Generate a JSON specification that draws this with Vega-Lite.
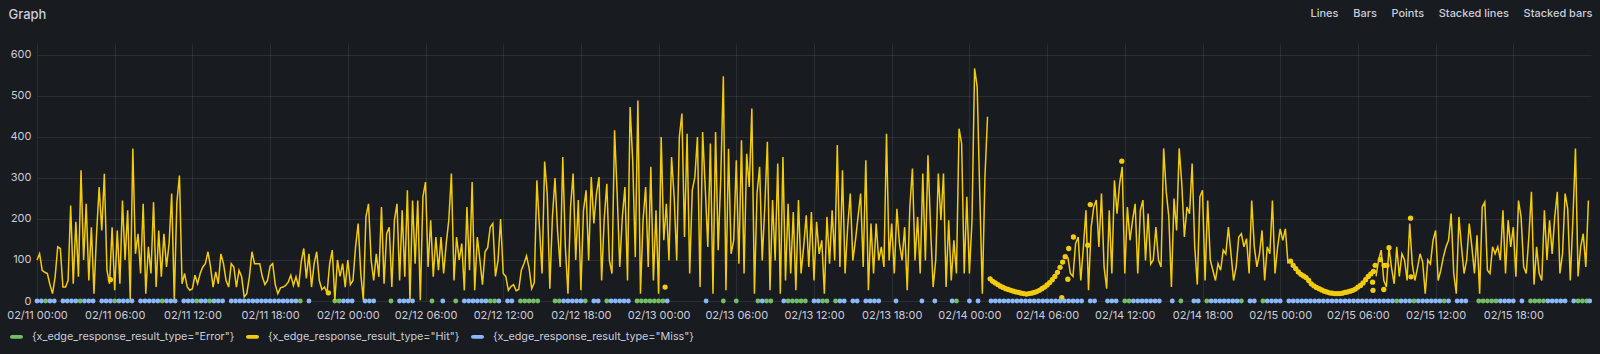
{
"$schema":"https://vega.github.io/schema/vega-lite/v6.json",
"width":1554,"height":258,
"autosize":{"type":"none"},
"padding":{"left":37,"top":43,"right":9,"bottom":53},
"background":"#181b1f",
"config":{"view":{"stroke":null},"font":"Inter",
"axis":{"domain":false,"ticks":false,"gridColor":"#ccccdc","gridOpacity":0.1,"labelColor":"#ccccdc","labelFont":"Inter","labelFontSize":11,"titleColor":"#ccccdc","titleFont":"Inter"}},
"encoding":{
"x":{"field":"t","type":"temporal","scale":{"type":"utc","domain":[{"year":1900,"month":2,"date":11,"utc":true},{"year":1900,"month":2,"date":16,"utc":true}]},
"axis":{"values":[{"year":1900,"month":2,"date":11,"hours":0,"utc":true},{"year":1900,"month":2,"date":11,"hours":6,"utc":true},{"year":1900,"month":2,"date":11,"hours":12,"utc":true},{"year":1900,"month":2,"date":11,"hours":18,"utc":true},{"year":1900,"month":2,"date":12,"hours":0,"utc":true},{"year":1900,"month":2,"date":12,"hours":6,"utc":true},{"year":1900,"month":2,"date":12,"hours":12,"utc":true},{"year":1900,"month":2,"date":12,"hours":18,"utc":true},{"year":1900,"month":2,"date":13,"hours":0,"utc":true},{"year":1900,"month":2,"date":13,"hours":6,"utc":true},{"year":1900,"month":2,"date":13,"hours":12,"utc":true},{"year":1900,"month":2,"date":13,"hours":18,"utc":true},{"year":1900,"month":2,"date":14,"hours":0,"utc":true},{"year":1900,"month":2,"date":14,"hours":6,"utc":true},{"year":1900,"month":2,"date":14,"hours":12,"utc":true},{"year":1900,"month":2,"date":14,"hours":18,"utc":true},{"year":1900,"month":2,"date":15,"hours":0,"utc":true},{"year":1900,"month":2,"date":15,"hours":6,"utc":true},{"year":1900,"month":2,"date":15,"hours":12,"utc":true},{"year":1900,"month":2,"date":15,"hours":18,"utc":true}],
"labelExpr":"utcFormat(datum.value, '%m/%d %H:%M')","labelFlush":false,"labelOverlap":false,"labelPadding":8,"grid":true,
"title":"Lines\u00a0\u00a0\u00a0\u00a0\u00a0Bars\u00a0\u00a0\u00a0\u00a0\u00a0Points\u00a0\u00a0\u00a0\u00a0\u00a0Stacked lines\u00a0\u00a0\u00a0\u00a0\u00a0Stacked bars","titleAlign":"left","titleBaseline":"middle","titleX":1273,"titleY":-288,"titleFontSize":11,"titleFontWeight":500}},
"y":{"field":"v","type":"quantitative","scale":{"domain":[0,629],"nice":false},
"axis":{"values":[0,100,200,300,400,500,600],"labelPadding":6,"grid":true,"title":"Graph","titleAngle":0,"titleAlign":"left","titleBaseline":"middle","titleX":-29,"titleY":-29,"titleFontSize":13,"titleFontWeight":500}}
},
"layer":[
{"data":{"values":[
{"t":"02/11 00:40","v":0},{"t":"02/11 03:20","v":0},{"t":"02/11 06:00","v":0},{"t":"02/11 09:40","v":0},{"t":"02/11 12:20","v":0},{"t":"02/11 13:20","v":0},{"t":"02/11 20:20","v":0},{"t":"02/11 23:00","v":0},{"t":"02/11 23:20","v":0},
{"t":"02/12 03:20","v":0},{"t":"02/12 06:30","v":0},{"t":"02/12 08:20","v":0},{"t":"02/12 11:00","v":0},{"t":"02/12 11:20","v":0},{"t":"02/12 13:20","v":0},{"t":"02/12 13:40","v":0},{"t":"02/12 14:00","v":0},{"t":"02/12 14:20","v":0},{"t":"02/12 14:40","v":0},{"t":"02/12 16:00","v":0},{"t":"02/12 16:20","v":0},{"t":"02/12 18:20","v":0},{"t":"02/12 20:00","v":0},{"t":"02/12 22:20","v":0},{"t":"02/12 22:40","v":0},{"t":"02/12 23:00","v":0},{"t":"02/12 23:20","v":0},{"t":"02/12 23:40","v":0},
{"t":"02/13 00:00","v":0},{"t":"02/13 00:20","v":0},{"t":"02/13 05:00","v":0},{"t":"02/13 06:00","v":0},{"t":"02/13 07:40","v":0},{"t":"02/13 08:20","v":0},{"t":"02/13 08:40","v":0},{"t":"02/13 10:00","v":0},{"t":"02/13 10:20","v":0},{"t":"02/13 10:40","v":0},{"t":"02/13 11:00","v":0},{"t":"02/13 11:20","v":0},{"t":"02/13 12:40","v":0},{"t":"02/13 13:00","v":0},{"t":"02/13 13:40","v":0},{"t":"02/13 23:00","v":0},
{"t":"02/14 12:00","v":0},{"t":"02/14 12:20","v":0},{"t":"02/14 16:20","v":0},{"t":"02/14 18:20","v":0},{"t":"02/14 21:00","v":0},{"t":"02/14 22:40","v":0},
{"t":"02/15 09:00","v":0},{"t":"02/15 10:20","v":0},{"t":"02/15 12:40","v":0},{"t":"02/15 15:20","v":0},{"t":"02/15 15:40","v":0},{"t":"02/15 16:00","v":0},{"t":"02/15 16:20","v":0},{"t":"02/15 16:40","v":0},{"t":"02/15 19:20","v":0},{"t":"02/15 19:40","v":0},{"t":"02/15 20:00","v":0},{"t":"02/15 20:20","v":0},{"t":"02/15 23:00","v":0},{"t":"02/15 23:20","v":0},{"t":"02/15 23:40","v":0}
],"format":{"parse":{"t":"utc:'%m/%d %H:%M'"}}},
"mark":{"type":"point","filled":true,"size":24,"opacity":1},
"encoding":{"color":{"datum":"{x_edge_response_result_type=\"Error\"}","scale":{"domain":["{x_edge_response_result_type=\"Error\"}","{x_edge_response_result_type=\"Hit\"}","{x_edge_response_result_type=\"Miss\"}"],"range":["#73BF69","#F2CC0C","#8AB8FF"]},
"legend":{"orient":"none","legendX":-27,"legendY":287,"direction":"horizontal","title":null,"symbolType":"M-0.7,-0.3L0.7,-0.3A0.3,0.3,0,0,1,0.7,0.3L-0.7,0.3A0.3,0.3,0,0,1,-0.7,-0.3Z","symbolSize":169,"symbolOpacity":1,"symbolStrokeWidth":0,"labelFont":"Inter","labelFontSize":10.8,"labelColor":"#ccccdc","labelOffset":9,"columnPadding":11,"labelLimit":400,"padding":0}}}},
{"data":{"values":[
{"t":"02/11 00:00","v":100},{"t":"02/11 00:12","v":115},{"t":"02/11 00:24","v":75},{"t":"02/11 00:36","v":70},{"t":"02/11 00:48","v":67},
{"t":"02/11 01:00","v":40},{"t":"02/11 01:12","v":18},{"t":"02/11 01:24","v":59},{"t":"02/11 01:36","v":132},{"t":"02/11 01:48","v":128},
{"t":"02/11 02:00","v":34},{"t":"02/11 02:12","v":34},{"t":"02/11 02:24","v":50},{"t":"02/11 02:36","v":233},{"t":"02/11 02:48","v":42},
{"t":"02/11 03:00","v":193},{"t":"02/11 03:12","v":59},{"t":"02/11 03:24","v":319},{"t":"02/11 03:36","v":100},{"t":"02/11 03:48","v":237},
{"t":"02/11 04:00","v":50},{"t":"02/11 04:12","v":180},{"t":"02/11 04:24","v":18},{"t":"02/11 04:36","v":164},{"t":"02/11 04:48","v":278},
{"t":"02/11 05:00","v":172},{"t":"02/11 05:12","v":310},{"t":"02/11 05:24","v":75},{"t":"02/11 05:36","v":42},{"t":"02/11 05:48","v":180},
{"t":"02/11 06:00","v":26},{"t":"02/11 06:12","v":172},{"t":"02/11 06:24","v":42},{"t":"02/11 06:36","v":245},{"t":"02/11 06:48","v":100},
{"t":"02/11 07:00","v":221},{"t":"02/11 07:12","v":5},{"t":"02/11 07:24","v":372},{"t":"02/11 07:36","v":115},{"t":"02/11 07:48","v":164},
{"t":"02/11 08:00","v":67},{"t":"02/11 08:12","v":237},{"t":"02/11 08:24","v":18},{"t":"02/11 08:36","v":132},{"t":"02/11 08:48","v":67},
{"t":"02/11 09:00","v":241},{"t":"02/11 09:12","v":34},{"t":"02/11 09:24","v":172},{"t":"02/11 09:36","v":59},{"t":"02/11 09:48","v":164},
{"t":"02/11 10:00","v":83},{"t":"02/11 10:12","v":140},{"t":"02/11 10:24","v":262},{"t":"02/11 10:36","v":2},{"t":"02/11 10:48","v":241},
{"t":"02/11 11:00","v":306},{"t":"02/11 11:12","v":42},{"t":"02/11 11:24","v":67},{"t":"02/11 11:36","v":34},{"t":"02/11 11:48","v":26},
{"t":"02/11 12:00","v":30},{"t":"02/11 12:12","v":63},{"t":"02/11 12:24","v":42},{"t":"02/11 12:36","v":67},{"t":"02/11 12:48","v":83},
{"t":"02/11 13:00","v":91},{"t":"02/11 13:12","v":120},{"t":"02/11 13:24","v":83},{"t":"02/11 13:36","v":34},{"t":"02/11 13:48","v":71},
{"t":"02/11 14:00","v":42},{"t":"02/11 14:12","v":115},{"t":"02/11 14:24","v":91},{"t":"02/11 14:36","v":50},{"t":"02/11 14:48","v":34},
{"t":"02/11 15:00","v":91},{"t":"02/11 15:12","v":83},{"t":"02/11 15:24","v":34},{"t":"02/11 15:36","v":75},{"t":"02/11 15:48","v":59},
{"t":"02/11 16:00","v":10},{"t":"02/11 16:12","v":18},{"t":"02/11 16:24","v":59},{"t":"02/11 16:36","v":120},{"t":"02/11 16:48","v":91},
{"t":"02/11 17:00","v":91},{"t":"02/11 17:12","v":91},{"t":"02/11 17:24","v":59},{"t":"02/11 17:36","v":40},{"t":"02/11 17:48","v":50},
{"t":"02/11 18:00","v":85},{"t":"02/11 18:12","v":91},{"t":"02/11 18:24","v":40},{"t":"02/11 18:36","v":18},{"t":"02/11 18:48","v":32},
{"t":"02/11 19:00","v":34},{"t":"02/11 19:12","v":38},{"t":"02/11 19:24","v":46},{"t":"02/11 19:36","v":63},{"t":"02/11 19:48","v":38},
{"t":"02/11 20:00","v":59},{"t":"02/11 20:12","v":34},{"t":"02/11 20:24","v":95},{"t":"02/11 20:36","v":128},{"t":"02/11 20:48","v":55},
{"t":"02/11 21:00","v":115},{"t":"02/11 21:12","v":34},{"t":"02/11 21:24","v":91},{"t":"02/11 21:36","v":120},{"t":"02/11 21:48","v":50},
{"t":"02/11 22:00","v":28},{"t":"02/11 22:12","v":34},{"t":"02/11 22:24","v":20},{"t":"02/11 22:36","v":91},{"t":"02/11 22:48","v":124},
{"t":"02/11 23:00","v":2},{"t":"02/11 23:12","v":100},{"t":"02/11 23:24","v":60},{"t":"02/11 23:36","v":91},{"t":"02/11 23:48","v":34},
{"t":"02/12 00:00","v":100},{"t":"02/12 00:12","v":40},{"t":"02/12 00:24","v":50},{"t":"02/12 00:36","v":132},{"t":"02/12 00:48","v":189},
{"t":"02/12 01:00","v":67},{"t":"02/12 01:12","v":2},{"t":"02/12 01:24","v":205},{"t":"02/12 01:36","v":237},{"t":"02/12 01:48","v":100},
{"t":"02/12 02:00","v":50},{"t":"02/12 02:12","v":115},{"t":"02/12 02:24","v":59},{"t":"02/12 02:36","v":229},{"t":"02/12 02:48","v":42},
{"t":"02/12 03:00","v":164},{"t":"02/12 03:12","v":180},{"t":"02/12 03:24","v":34},{"t":"02/12 03:36","v":197},{"t":"02/12 03:48","v":237},
{"t":"02/12 04:00","v":50},{"t":"02/12 04:12","v":221},{"t":"02/12 04:24","v":59},{"t":"02/12 04:36","v":270},{"t":"02/12 04:48","v":2},
{"t":"02/12 05:00","v":245},{"t":"02/12 05:12","v":91},{"t":"02/12 05:24","v":245},{"t":"02/12 05:36","v":2},{"t":"02/12 05:48","v":254},
{"t":"02/12 06:00","v":290},{"t":"02/12 06:12","v":83},{"t":"02/12 06:24","v":197},{"t":"02/12 06:36","v":59},{"t":"02/12 06:48","v":156},
{"t":"02/12 07:00","v":75},{"t":"02/12 07:12","v":156},{"t":"02/12 07:24","v":67},{"t":"02/12 07:36","v":140},{"t":"02/12 07:48","v":197},
{"t":"02/12 08:00","v":311},{"t":"02/12 08:12","v":50},{"t":"02/12 08:24","v":156},{"t":"02/12 08:36","v":100},{"t":"02/12 08:48","v":140},
{"t":"02/12 09:00","v":26},{"t":"02/12 09:12","v":229},{"t":"02/12 09:24","v":75},{"t":"02/12 09:36","v":290},{"t":"02/12 09:48","v":26},
{"t":"02/12 10:00","v":156},{"t":"02/12 10:12","v":100},{"t":"02/12 10:24","v":40},{"t":"02/12 10:36","v":120},{"t":"02/12 10:48","v":130},
{"t":"02/12 11:00","v":180},{"t":"02/12 11:12","v":189},{"t":"02/12 11:24","v":60},{"t":"02/12 11:36","v":99},{"t":"02/12 11:48","v":200},
{"t":"02/12 12:00","v":67},{"t":"02/12 12:12","v":60},{"t":"02/12 12:24","v":26},{"t":"02/12 12:36","v":35},{"t":"02/12 12:48","v":40},
{"t":"02/12 13:00","v":25},{"t":"02/12 13:12","v":28},{"t":"02/12 13:24","v":75},{"t":"02/12 13:36","v":91},{"t":"02/12 13:48","v":110},
{"t":"02/12 14:00","v":80},{"t":"02/12 14:12","v":30},{"t":"02/12 14:24","v":45},{"t":"02/12 14:36","v":294},{"t":"02/12 14:48","v":180},
{"t":"02/12 15:00","v":67},{"t":"02/12 15:12","v":340},{"t":"02/12 15:24","v":262},{"t":"02/12 15:36","v":30},{"t":"02/12 15:48","v":205},
{"t":"02/12 16:00","v":300},{"t":"02/12 16:12","v":170},{"t":"02/12 16:24","v":83},{"t":"02/12 16:36","v":351},{"t":"02/12 16:48","v":132},
{"t":"02/12 17:00","v":18},{"t":"02/12 17:12","v":229},{"t":"02/12 17:24","v":311},{"t":"02/12 17:36","v":100},{"t":"02/12 17:48","v":246},
{"t":"02/12 18:00","v":26},{"t":"02/12 18:12","v":221},{"t":"02/12 18:24","v":270},{"t":"02/12 18:36","v":99},{"t":"02/12 18:48","v":302},
{"t":"02/12 19:00","v":189},{"t":"02/12 19:12","v":262},{"t":"02/12 19:24","v":302},{"t":"02/12 19:36","v":50},{"t":"02/12 19:48","v":200},
{"t":"02/12 20:00","v":286},{"t":"02/12 20:12","v":99},{"t":"02/12 20:24","v":67},{"t":"02/12 20:36","v":416},{"t":"02/12 20:48","v":262},
{"t":"02/12 21:00","v":83},{"t":"02/12 21:12","v":205},{"t":"02/12 21:24","v":278},{"t":"02/12 21:36","v":50},{"t":"02/12 21:48","v":473},
{"t":"02/12 22:00","v":343},{"t":"02/12 22:12","v":107},{"t":"02/12 22:24","v":489},{"t":"02/12 22:36","v":18},{"t":"02/12 22:48","v":197},
{"t":"02/12 23:00","v":278},{"t":"02/12 23:12","v":83},{"t":"02/12 23:24","v":327},{"t":"02/12 23:36","v":50},{"t":"02/12 23:48","v":221},
{"t":"02/13 00:00","v":18},{"t":"02/13 00:12","v":400},{"t":"02/13 00:24","v":148},{"t":"02/13 00:36","v":237},{"t":"02/13 00:48","v":99},
{"t":"02/13 01:00","v":351},{"t":"02/13 01:12","v":254},{"t":"02/13 01:24","v":99},{"t":"02/13 01:36","v":400},{"t":"02/13 01:48","v":457},
{"t":"02/13 02:00","v":156},{"t":"02/13 02:12","v":408},{"t":"02/13 02:24","v":67},{"t":"02/13 02:36","v":270},{"t":"02/13 02:48","v":302},
{"t":"02/13 03:00","v":400},{"t":"02/13 03:12","v":34},{"t":"02/13 03:24","v":412},{"t":"02/13 03:36","v":278},{"t":"02/13 03:48","v":132},
{"t":"02/13 04:00","v":384},{"t":"02/13 04:12","v":18},{"t":"02/13 04:24","v":412},{"t":"02/13 04:36","v":124},{"t":"02/13 04:48","v":300},
{"t":"02/13 05:00","v":548},{"t":"02/13 05:12","v":26},{"t":"02/13 05:24","v":371},{"t":"02/13 05:36","v":115},{"t":"02/13 05:48","v":148},
{"t":"02/13 06:00","v":343},{"t":"02/13 06:12","v":91},{"t":"02/13 06:24","v":392},{"t":"02/13 06:36","v":67},{"t":"02/13 06:48","v":359},
{"t":"02/13 07:00","v":278},{"t":"02/13 07:12","v":469},{"t":"02/13 07:24","v":18},{"t":"02/13 07:36","v":262},{"t":"02/13 07:48","v":327},
{"t":"02/13 08:00","v":99},{"t":"02/13 08:12","v":229},{"t":"02/13 08:24","v":388},{"t":"02/13 08:36","v":26},{"t":"02/13 08:48","v":246},
{"t":"02/13 09:00","v":99},{"t":"02/13 09:12","v":335},{"t":"02/13 09:24","v":18},{"t":"02/13 09:36","v":351},{"t":"02/13 09:48","v":50},
{"t":"02/13 10:00","v":237},{"t":"02/13 10:12","v":67},{"t":"02/13 10:24","v":217},{"t":"02/13 10:36","v":26},{"t":"02/13 10:48","v":246},
{"t":"02/13 11:00","v":67},{"t":"02/13 11:12","v":132},{"t":"02/13 11:24","v":209},{"t":"02/13 11:36","v":83},{"t":"02/13 11:48","v":217},
{"t":"02/13 12:00","v":50},{"t":"02/13 12:12","v":193},{"t":"02/13 12:24","v":115},{"t":"02/13 12:36","v":148},{"t":"02/13 12:48","v":18},
{"t":"02/13 13:00","v":205},{"t":"02/13 13:12","v":91},{"t":"02/13 13:24","v":221},{"t":"02/13 13:36","v":99},{"t":"02/13 13:48","v":380},
{"t":"02/13 14:00","v":83},{"t":"02/13 14:12","v":319},{"t":"02/13 14:24","v":67},{"t":"02/13 14:36","v":180},{"t":"02/13 14:48","v":262},
{"t":"02/13 15:00","v":99},{"t":"02/13 15:12","v":148},{"t":"02/13 15:24","v":205},{"t":"02/13 15:36","v":262},{"t":"02/13 15:48","v":83},
{"t":"02/13 16:00","v":343},{"t":"02/13 16:12","v":26},{"t":"02/13 16:24","v":189},{"t":"02/13 16:36","v":67},{"t":"02/13 16:48","v":189},
{"t":"02/13 17:00","v":99},{"t":"02/13 17:12","v":132},{"t":"02/13 17:24","v":83},{"t":"02/13 17:36","v":408},{"t":"02/13 17:48","v":99},
{"t":"02/13 18:00","v":189},{"t":"02/13 18:12","v":67},{"t":"02/13 18:24","v":225},{"t":"02/13 18:36","v":140},{"t":"02/13 18:48","v":99},
{"t":"02/13 19:00","v":180},{"t":"02/13 19:12","v":26},{"t":"02/13 19:24","v":229},{"t":"02/13 19:36","v":323},{"t":"02/13 19:48","v":99},
{"t":"02/13 20:00","v":205},{"t":"02/13 20:12","v":67},{"t":"02/13 20:24","v":311},{"t":"02/13 20:36","v":99},{"t":"02/13 20:48","v":355},
{"t":"02/13 21:00","v":180},{"t":"02/13 21:12","v":34},{"t":"02/13 21:24","v":100},{"t":"02/13 21:36","v":311},{"t":"02/13 21:48","v":197},
{"t":"02/13 22:00","v":311},{"t":"02/13 22:12","v":34},{"t":"02/13 22:24","v":197},{"t":"02/13 22:36","v":50},{"t":"02/13 22:48","v":148},
{"t":"02/13 23:00","v":67},{"t":"02/13 23:12","v":420},{"t":"02/13 23:24","v":384},{"t":"02/13 23:36","v":67},{"t":"02/13 23:48","v":254},
{"t":"02/14 00:00","v":67},{"t":"02/14 00:12","v":197},{"t":"02/14 00:24","v":567},{"t":"02/14 00:36","v":522},{"t":"02/14 00:48","v":262},
{"t":"02/14 01:00","v":18},{"t":"02/14 01:12","v":302},{"t":"02/14 01:24","v":449},{"t":"02/14 01:36","v":null},
{"t":"02/14 07:36","v":107},{"t":"02/14 07:48","v":67},
{"t":"02/14 08:00","v":60},{"t":"02/14 08:12","v":140},{"t":"02/14 08:24","v":156},{"t":"02/14 08:36","v":50},{"t":"02/14 08:48","v":130},
{"t":"02/14 09:00","v":221},{"t":"02/14 09:12","v":26},{"t":"02/14 09:24","v":180},{"t":"02/14 09:36","v":229},{"t":"02/14 09:48","v":246},
{"t":"02/14 10:00","v":132},{"t":"02/14 10:12","v":262},{"t":"02/14 10:24","v":83},{"t":"02/14 10:36","v":30},{"t":"02/14 10:48","v":221},
{"t":"02/14 11:00","v":67},{"t":"02/14 11:12","v":294},{"t":"02/14 11:24","v":213},{"t":"02/14 11:36","v":286},{"t":"02/14 11:48","v":327},
{"t":"02/14 12:00","v":67},{"t":"02/14 12:12","v":229},{"t":"02/14 12:24","v":148},{"t":"02/14 12:36","v":197},{"t":"02/14 12:48","v":237},
{"t":"02/14 13:00","v":67},{"t":"02/14 13:12","v":221},{"t":"02/14 13:24","v":246},{"t":"02/14 13:36","v":99},{"t":"02/14 13:48","v":213},
{"t":"02/14 14:00","v":90},{"t":"02/14 14:12","v":100},{"t":"02/14 14:24","v":180},{"t":"02/14 14:36","v":100},{"t":"02/14 14:48","v":83},
{"t":"02/14 15:00","v":372},{"t":"02/14 15:12","v":266},{"t":"02/14 15:24","v":205},{"t":"02/14 15:36","v":34},{"t":"02/14 15:48","v":250},
{"t":"02/14 16:00","v":172},{"t":"02/14 16:12","v":372},{"t":"02/14 16:24","v":286},{"t":"02/14 16:36","v":156},{"t":"02/14 16:48","v":229},
{"t":"02/14 17:00","v":213},{"t":"02/14 17:12","v":335},{"t":"02/14 17:24","v":132},{"t":"02/14 17:36","v":40},{"t":"02/14 17:48","v":254},
{"t":"02/14 18:00","v":270},{"t":"02/14 18:12","v":50},{"t":"02/14 18:24","v":245},{"t":"02/14 18:36","v":100},{"t":"02/14 18:48","v":75},
{"t":"02/14 19:00","v":50},{"t":"02/14 19:12","v":91},{"t":"02/14 19:24","v":75},{"t":"02/14 19:36","v":124},{"t":"02/14 19:48","v":115},
{"t":"02/14 20:00","v":180},{"t":"02/14 20:12","v":115},{"t":"02/14 20:24","v":50},{"t":"02/14 20:36","v":83},{"t":"02/14 20:48","v":156},
{"t":"02/14 21:00","v":164},{"t":"02/14 21:12","v":132},{"t":"02/14 21:24","v":152},{"t":"02/14 21:36","v":67},{"t":"02/14 21:48","v":245},
{"t":"02/14 22:00","v":132},{"t":"02/14 22:12","v":83},{"t":"02/14 22:24","v":115},{"t":"02/14 22:36","v":172},{"t":"02/14 22:48","v":50},
{"t":"02/14 23:00","v":132},{"t":"02/14 23:12","v":115},{"t":"02/14 23:24","v":245},{"t":"02/14 23:36","v":67},{"t":"02/14 23:48","v":132},
{"t":"02/15 00:00","v":176},{"t":"02/15 00:12","v":148},{"t":"02/15 00:24","v":176},{"t":"02/15 00:36","v":91},{"t":"02/15 00:48","v":null},
{"t":"02/15 07:24","v":60},{"t":"02/15 07:36","v":100},{"t":"02/15 07:48","v":124},
{"t":"02/15 08:00","v":50},{"t":"02/15 08:12","v":34},{"t":"02/15 08:24","v":130},{"t":"02/15 08:36","v":80},{"t":"02/15 08:48","v":42},
{"t":"02/15 09:00","v":132},{"t":"02/15 09:12","v":60},{"t":"02/15 09:24","v":115},{"t":"02/15 09:36","v":100},{"t":"02/15 09:48","v":50},
{"t":"02/15 10:00","v":189},{"t":"02/15 10:12","v":90},{"t":"02/15 10:24","v":50},{"t":"02/15 10:36","v":80},{"t":"02/15 10:48","v":115},
{"t":"02/15 11:00","v":95},{"t":"02/15 11:12","v":18},{"t":"02/15 11:24","v":100},{"t":"02/15 11:36","v":90},{"t":"02/15 11:48","v":148},
{"t":"02/15 12:00","v":172},{"t":"02/15 12:12","v":50},{"t":"02/15 12:24","v":75},{"t":"02/15 12:36","v":107},{"t":"02/15 12:48","v":132},
{"t":"02/15 13:00","v":148},{"t":"02/15 13:12","v":213},{"t":"02/15 13:24","v":67},{"t":"02/15 13:36","v":18},{"t":"02/15 13:48","v":205},
{"t":"02/15 14:00","v":132},{"t":"02/15 14:12","v":67},{"t":"02/15 14:24","v":100},{"t":"02/15 14:36","v":189},{"t":"02/15 14:48","v":132},
{"t":"02/15 15:00","v":67},{"t":"02/15 15:12","v":160},{"t":"02/15 15:24","v":18},{"t":"02/15 15:36","v":229},{"t":"02/15 15:48","v":241},
{"t":"02/15 16:00","v":75},{"t":"02/15 16:12","v":67},{"t":"02/15 16:24","v":132},{"t":"02/15 16:36","v":115},{"t":"02/15 16:48","v":132},
{"t":"02/15 17:00","v":100},{"t":"02/15 17:12","v":221},{"t":"02/15 17:24","v":67},{"t":"02/15 17:36","v":197},{"t":"02/15 17:48","v":132},
{"t":"02/15 18:00","v":180},{"t":"02/15 18:12","v":59},{"t":"02/15 18:24","v":245},{"t":"02/15 18:36","v":205},{"t":"02/15 18:48","v":83},
{"t":"02/15 19:00","v":67},{"t":"02/15 19:12","v":156},{"t":"02/15 19:24","v":266},{"t":"02/15 19:36","v":40},{"t":"02/15 19:48","v":132},
{"t":"02/15 20:00","v":67},{"t":"02/15 20:12","v":50},{"t":"02/15 20:24","v":221},{"t":"02/15 20:36","v":100},{"t":"02/15 20:48","v":197},
{"t":"02/15 21:00","v":115},{"t":"02/15 21:12","v":205},{"t":"02/15 21:24","v":266},{"t":"02/15 21:36","v":67},{"t":"02/15 21:48","v":115},
{"t":"02/15 22:00","v":262},{"t":"02/15 22:12","v":225},{"t":"02/15 22:24","v":50},{"t":"02/15 22:36","v":197},{"t":"02/15 22:48","v":372},
{"t":"02/15 23:00","v":60},{"t":"02/15 23:12","v":132},{"t":"02/15 23:24","v":164},{"t":"02/15 23:36","v":83},{"t":"02/15 23:48","v":245}
],"format":{"parse":{"t":"utc:'%m/%d %H:%M'"}}},
"mark":{"type":"line","color":"#F2CC0C","strokeWidth":1.5,"invalid":"break-paths-filter-domains"},
"encoding":{}},
{"data":{"values":[
{"t":"02/11 05:40","v":52},{"t":"02/11 22:30","v":20},{"t":"02/13 00:30","v":34},
{"t":"02/14 01:36","v":54},{"t":"02/14 01:48","v":48},{"t":"02/14 02:00","v":44},{"t":"02/14 02:12","v":40},{"t":"02/14 02:24","v":36},{"t":"02/14 02:36","v":33},{"t":"02/14 02:48","v":30},{"t":"02/14 03:00","v":28},{"t":"02/14 03:12","v":26},{"t":"02/14 03:24","v":24},{"t":"02/14 03:36","v":22},{"t":"02/14 03:48","v":21},{"t":"02/14 04:00","v":19},{"t":"02/14 04:12","v":18},{"t":"02/14 04:24","v":17},{"t":"02/14 04:36","v":18},{"t":"02/14 04:48","v":19},{"t":"02/14 05:00","v":21},{"t":"02/14 05:12","v":23},{"t":"02/14 05:24","v":26},{"t":"02/14 05:36","v":30},{"t":"02/14 05:48","v":34},{"t":"02/14 06:00","v":39},{"t":"02/14 06:12","v":45},{"t":"02/14 06:24","v":52},{"t":"02/14 06:36","v":60},{"t":"02/14 06:48","v":70},{"t":"02/14 07:00","v":82},{"t":"02/14 07:12","v":95},{"t":"02/14 07:24","v":108},
{"t":"02/14 07:08","v":8},{"t":"02/14 07:36","v":53},{"t":"02/14 07:40","v":128},{"t":"02/14 08:02","v":156},{"t":"02/14 09:08","v":136},{"t":"02/14 09:20","v":235},{"t":"02/14 11:46","v":341},
{"t":"02/15 00:48","v":97},{"t":"02/15 01:00","v":87},{"t":"02/15 01:12","v":79},{"t":"02/15 01:24","v":71},{"t":"02/15 01:36","v":65},{"t":"02/15 01:48","v":61},{"t":"02/15 02:00","v":57},{"t":"02/15 02:12","v":50},{"t":"02/15 02:24","v":42},{"t":"02/15 02:36","v":37},{"t":"02/15 02:48","v":33},{"t":"02/15 03:00","v":30},{"t":"02/15 03:12","v":27},{"t":"02/15 03:24","v":24},{"t":"02/15 03:36","v":22},{"t":"02/15 03:48","v":20},{"t":"02/15 04:00","v":19},{"t":"02/15 04:12","v":18},{"t":"02/15 04:24","v":18},{"t":"02/15 04:36","v":18},{"t":"02/15 04:48","v":19},{"t":"02/15 05:00","v":21},{"t":"02/15 05:12","v":22},{"t":"02/15 05:24","v":24},{"t":"02/15 05:36","v":26},{"t":"02/15 05:48","v":29},{"t":"02/15 06:00","v":34},{"t":"02/15 06:12","v":38},{"t":"02/15 06:24","v":44},{"t":"02/15 06:36","v":52},{"t":"02/15 06:48","v":60},{"t":"02/15 07:00","v":66},{"t":"02/15 07:12","v":72},
{"t":"02/15 07:08","v":46},{"t":"02/15 07:10","v":26},{"t":"02/15 07:20","v":87},{"t":"02/15 07:44","v":101},{"t":"02/15 08:00","v":28},{"t":"02/15 08:02","v":87},{"t":"02/15 08:14","v":87},{"t":"02/15 08:24","v":130},{"t":"02/15 10:04","v":202},{"t":"02/15 10:06","v":59}
],"format":{"parse":{"t":"utc:'%m/%d %H:%M'"}}},
"mark":{"type":"point","filled":true,"size":28,"opacity":1},
"encoding":{"color":{"datum":"{x_edge_response_result_type=\"Hit\"}"}}},
{"data":{"values":[
{"t":"02/11 00:00","v":0},{"t":"02/11 00:20","v":0},{"t":"02/11 01:00","v":0},{"t":"02/11 01:20","v":0},{"t":"02/11 02:00","v":0},{"t":"02/11 02:20","v":0},{"t":"02/11 02:40","v":0},{"t":"02/11 03:00","v":0},{"t":"02/11 03:40","v":0},{"t":"02/11 04:00","v":0},{"t":"02/11 04:20","v":0},{"t":"02/11 05:00","v":0},{"t":"02/11 05:20","v":0},{"t":"02/11 05:40","v":0},{"t":"02/11 06:20","v":0},{"t":"02/11 06:40","v":0},{"t":"02/11 07:00","v":0},{"t":"02/11 07:20","v":0},{"t":"02/11 08:00","v":0},{"t":"02/11 08:20","v":0},{"t":"02/11 08:40","v":0},{"t":"02/11 09:00","v":0},{"t":"02/11 09:20","v":0},{"t":"02/11 10:00","v":0},{"t":"02/11 10:20","v":0},{"t":"02/11 10:40","v":0},{"t":"02/11 11:20","v":0},{"t":"02/11 11:40","v":0},{"t":"02/11 12:00","v":0},{"t":"02/11 12:40","v":0},{"t":"02/11 13:00","v":0},{"t":"02/11 13:40","v":0},{"t":"02/11 14:00","v":0},{"t":"02/11 14:20","v":0},{"t":"02/11 15:00","v":0},{"t":"02/11 15:20","v":0},{"t":"02/11 15:40","v":0},{"t":"02/11 16:00","v":0},{"t":"02/11 16:20","v":0},{"t":"02/11 16:40","v":0},{"t":"02/11 17:00","v":0},{"t":"02/11 17:20","v":0},{"t":"02/11 17:40","v":0},{"t":"02/11 18:00","v":0},{"t":"02/11 18:20","v":0},{"t":"02/11 18:40","v":0},{"t":"02/11 19:00","v":0},{"t":"02/11 19:20","v":0},{"t":"02/11 19:40","v":0},{"t":"02/11 20:00","v":0},{"t":"02/11 21:00","v":0},{"t":"02/11 23:40","v":0},
{"t":"02/12 00:00","v":0},{"t":"02/12 00:20","v":0},{"t":"02/12 01:20","v":0},{"t":"02/12 01:40","v":0},{"t":"02/12 02:00","v":0},{"t":"02/12 04:00","v":0},{"t":"02/12 04:20","v":0},{"t":"02/12 04:40","v":0},{"t":"02/12 05:00","v":0},{"t":"02/12 07:20","v":0},{"t":"02/12 09:00","v":0},{"t":"02/12 09:20","v":0},{"t":"02/12 09:40","v":0},{"t":"02/12 10:00","v":0},{"t":"02/12 10:20","v":0},{"t":"02/12 10:40","v":0},{"t":"02/12 11:40","v":0},{"t":"02/12 12:20","v":0},{"t":"02/12 12:40","v":0},{"t":"02/12 16:40","v":0},{"t":"02/12 17:00","v":0},{"t":"02/12 17:20","v":0},{"t":"02/12 17:40","v":0},{"t":"02/12 18:00","v":0},{"t":"02/12 19:00","v":0},{"t":"02/12 19:20","v":0},{"t":"02/12 20:20","v":0},{"t":"02/12 20:40","v":0},{"t":"02/12 21:00","v":0},{"t":"02/12 21:20","v":0},{"t":"02/12 21:40","v":0},
{"t":"02/13 00:40","v":0},{"t":"02/13 03:40","v":0},{"t":"02/13 08:00","v":0},{"t":"02/13 09:40","v":0},{"t":"02/13 12:00","v":0},{"t":"02/13 12:20","v":0},{"t":"02/13 14:00","v":0},{"t":"02/13 14:20","v":0},{"t":"02/13 15:00","v":0},{"t":"02/13 15:20","v":0},{"t":"02/13 16:00","v":0},{"t":"02/13 16:20","v":0},{"t":"02/13 16:40","v":0},{"t":"02/13 17:00","v":0},{"t":"02/13 18:20","v":0},{"t":"02/13 20:20","v":0},{"t":"02/13 21:20","v":0},{"t":"02/13 22:40","v":0},
{"t":"02/14 00:00","v":0},{"t":"02/14 00:40","v":0},{"t":"02/14 01:40","v":0},{"t":"02/14 02:00","v":0},{"t":"02/14 02:20","v":0},{"t":"02/14 02:40","v":0},{"t":"02/14 03:00","v":0},{"t":"02/14 03:20","v":0},{"t":"02/14 03:40","v":0},{"t":"02/14 04:00","v":0},{"t":"02/14 04:20","v":0},{"t":"02/14 04:40","v":0},{"t":"02/14 05:00","v":0},{"t":"02/14 05:20","v":0},{"t":"02/14 05:40","v":0},{"t":"02/14 06:00","v":0},{"t":"02/14 06:20","v":0},{"t":"02/14 06:40","v":0},{"t":"02/14 07:00","v":0},{"t":"02/14 07:20","v":0},{"t":"02/14 07:40","v":0},{"t":"02/14 08:00","v":0},{"t":"02/14 08:20","v":0},{"t":"02/14 08:40","v":0},{"t":"02/14 09:20","v":0},{"t":"02/14 09:40","v":0},{"t":"02/14 10:40","v":0},{"t":"02/14 11:00","v":0},{"t":"02/14 11:20","v":0},{"t":"02/14 12:40","v":0},{"t":"02/14 13:00","v":0},{"t":"02/14 13:20","v":0},{"t":"02/14 13:40","v":0},{"t":"02/14 14:00","v":0},{"t":"02/14 14:20","v":0},{"t":"02/14 14:40","v":0},{"t":"02/14 15:40","v":0},{"t":"02/14 17:20","v":0},{"t":"02/14 17:40","v":0},{"t":"02/14 18:40","v":0},{"t":"02/14 19:00","v":0},{"t":"02/14 19:20","v":0},{"t":"02/14 19:40","v":0},{"t":"02/14 20:00","v":0},{"t":"02/14 20:20","v":0},{"t":"02/14 20:40","v":0},{"t":"02/14 21:40","v":0},{"t":"02/14 22:00","v":0},{"t":"02/14 23:00","v":0},{"t":"02/14 23:20","v":0},{"t":"02/14 23:40","v":0},
{"t":"02/15 00:00","v":0},{"t":"02/15 00:40","v":0},{"t":"02/15 01:00","v":0},{"t":"02/15 01:20","v":0},{"t":"02/15 01:40","v":0},{"t":"02/15 02:00","v":0},{"t":"02/15 02:20","v":0},{"t":"02/15 02:40","v":0},{"t":"02/15 03:00","v":0},{"t":"02/15 03:20","v":0},{"t":"02/15 03:40","v":0},{"t":"02/15 04:00","v":0},{"t":"02/15 04:20","v":0},{"t":"02/15 04:40","v":0},{"t":"02/15 05:00","v":0},{"t":"02/15 05:20","v":0},{"t":"02/15 05:40","v":0},{"t":"02/15 06:00","v":0},{"t":"02/15 06:20","v":0},{"t":"02/15 06:40","v":0},{"t":"02/15 07:00","v":0},{"t":"02/15 07:20","v":0},{"t":"02/15 07:40","v":0},{"t":"02/15 08:00","v":0},{"t":"02/15 08:20","v":0},{"t":"02/15 08:40","v":0},{"t":"02/15 09:20","v":0},{"t":"02/15 09:40","v":0},{"t":"02/15 10:00","v":0},{"t":"02/15 10:40","v":0},{"t":"02/15 11:00","v":0},{"t":"02/15 11:20","v":0},{"t":"02/15 11:40","v":0},{"t":"02/15 12:00","v":0},{"t":"02/15 12:20","v":0},{"t":"02/15 13:00","v":0},{"t":"02/15 13:40","v":0},{"t":"02/15 14:00","v":0},{"t":"02/15 14:20","v":0},{"t":"02/15 17:00","v":0},{"t":"02/15 17:20","v":0},{"t":"02/15 17:40","v":0},{"t":"02/15 18:00","v":0},{"t":"02/15 18:40","v":0},{"t":"02/15 20:40","v":0},{"t":"02/15 21:00","v":0},{"t":"02/15 21:20","v":0},{"t":"02/15 21:40","v":0},{"t":"02/15 22:00","v":0},{"t":"02/15 22:40","v":0},{"t":"02/15 23:54","v":0}
],"format":{"parse":{"t":"utc:'%m/%d %H:%M'"}}},
"mark":{"type":"point","filled":true,"size":24,"opacity":1},
"encoding":{"color":{"datum":"{x_edge_response_result_type=\"Miss\"}"}}}
]
}
